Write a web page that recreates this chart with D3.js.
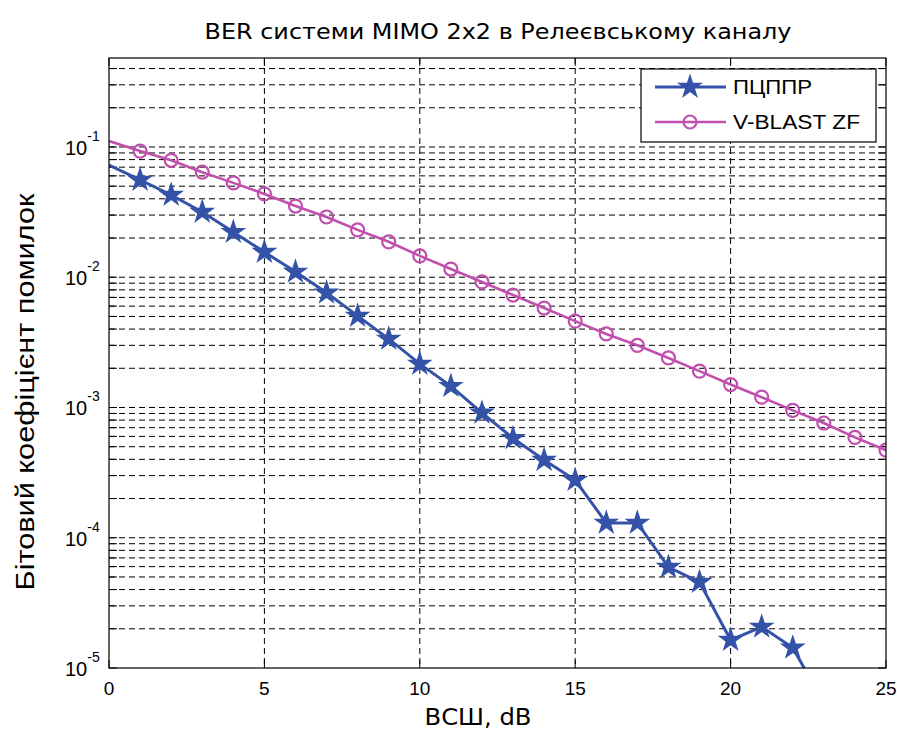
<!DOCTYPE html>
<html>
<head>
<meta charset="utf-8">
<script src="https://cdn.jsdelivr.net/npm/d3@7"></script>
<style>
  body { margin: 0; background: #fff; }
</style>
</head>
<body>
<div class="chart"></div>
<script>
// SNR points, dB
const snr = [0, 1, 2, 3, 4, 5, 6, 7, 8, 9, 10, 11, 12, 13, 14, 15, 16, 17, 18, 19, 20, 21, 22, 23, 24, 25];
// BER
const berPcppr = [0.0727, 0.0558, 0.0428, 0.0317, 0.0222, 0.0156, 0.011, 0.0076, 0.00505, 0.00336,
    0.00216, 0.00146, 0.00091, 0.00058, 0.000395, 0.000277, 0.00013, 0.00013, 0.0000596, 0.0000457,
    0.0000164, 0.0000207, 0.0000143, 0.0000054];
const berVblast = [0.111, 0.093, 0.079, 0.064, 0.053, 0.0436, 0.0352, 0.029, 0.0231, 0.0187,
    0.0146, 0.01156, 0.0092, 0.0073, 0.0058, 0.0046, 0.00367, 0.003, 0.0024, 0.0019,
    0.0015, 0.0012, 0.00095, 0.00076, 0.00059, 0.00047];
const xTicks = [0, 5, 10, 15, 20, 25];
const yDecades = [-5, -4, -3, -2, -1];
const seriesNames = ['ПЦППР', 'V-BLAST ZF'];

const margin = { top: 58, right: 11, bottom: 63, left: 109 },
    width = 897 - margin.left - margin.right,
    height = 731 - margin.top - margin.bottom;

const blue = '#3453a8', pink = '#c04fae';

const root = d3.select('.chart')
    .append('svg')
    .attr('width', 897)
    .attr('height', 731);

root.append('rect').attr('width', 897).attr('height', 731).attr('fill', '#fff');

const svg = root.append('g')
    .attr('transform', `translate(${margin.left},${margin.top})`);

const x = d3.scaleLinear().domain([0, 25]).range([0, width]);
const y = d3.scaleLog().domain([1e-5, 0.482]).range([height, 0]);

// all log ticks inside the range
const yMinor = [];
yDecades.forEach(e => {
    for (let k = 1; k <= 9; k++) {
        const v = k * Math.pow(10, e);
        if (v <= y.domain()[1]) yMinor.push(v);
    }
});

// grid
svg.append('g')
    .selectAll('line')
    .data(yMinor.filter(v => v > 1e-5))
    .join('line')
    .attr('x1', 0).attr('x2', width)
    .attr('y1', d => y(d)).attr('y2', d => y(d))
    .attr('stroke', '#000').attr('stroke-width', 1)
    .attr('stroke-dasharray', '6,4');

svg.append('g')
    .selectAll('line')
    .data(xTicks.filter(d => d > 0 && d < 25))
    .join('line')
    .attr('x1', d => x(d)).attr('x2', d => x(d))
    .attr('y1', 0).attr('y2', height)
    .attr('stroke', '#000').attr('stroke-width', 1)
    .attr('stroke-dasharray', '6,4');

// ticks inside the box
const tl = 8;
svg.append('g').selectAll('line')
    .data(xTicks).join('line')
    .attr('x1', d => x(d)).attr('x2', d => x(d))
    .attr('y1', height).attr('y2', height - tl)
    .attr('stroke', '#000');
svg.append('g').selectAll('line')
    .data(xTicks).join('line')
    .attr('x1', d => x(d)).attr('x2', d => x(d))
    .attr('y1', 0).attr('y2', tl)
    .attr('stroke', '#000');
svg.append('g').selectAll('line')
    .data(yMinor).join('line')
    .attr('x1', 0).attr('x2', tl)
    .attr('y1', d => y(d)).attr('y2', d => y(d))
    .attr('stroke', '#000');
svg.append('g').selectAll('line')
    .data(yMinor).join('line')
    .attr('x1', width).attr('x2', width - tl)
    .attr('y1', d => y(d)).attr('y2', d => y(d))
    .attr('stroke', '#000');

// tick labels
svg.append('g').selectAll('text')
    .data(xTicks).join('text')
    .attr('x', d => x(d))
    .attr('y', height + 27)
    .attr('text-anchor', 'middle')
    .style('font-family', '"Liberation Sans", Arial, sans-serif')
    .style('font-size', '19px')
    .text(d => d);

const yLab = svg.append('g').selectAll('text')
    .data(yDecades).join('text')
    .attr('x', -44)
    .attr('y', d => y(Math.pow(10, d)) + 8)
    .style('font-family', '"Liberation Sans", Arial, sans-serif')
    .style('font-size', '20px');
yLab.append('tspan').text('10');
yLab.append('tspan')
    .attr('dy', -14)
    .style('font-size', '14px')
    .text(d => d);

// clip
svg.append('clipPath').attr('id', 'plotClip')
    .append('rect').attr('width', width).attr('height', height);

const line = d3.line()
    .x(d => x(d[0]))
    .y(d => y(d[1]));

const pcppr = berPcppr.map((v, i) => [snr[i], v]);
const vblast = berVblast.map((v, i) => [snr[i], v]);

const plot = svg.append('g').attr('clip-path', 'url(#plotClip)');

plot.append('path')
    .datum(vblast)
    .attr('d', line)
    .attr('fill', 'none')
    .attr('stroke', pink)
    .attr('stroke-width', 2.6);

plot.selectAll('circle.vb')
    .data(vblast.filter(d => d[0] > 0))
    .join('circle')
    .attr('class', 'vb')
    .attr('cx', d => x(d[0]))
    .attr('cy', d => y(d[1]))
    .attr('r', 6.5)
    .attr('fill', 'none')
    .attr('stroke', pink)
    .attr('stroke-width', 2.2);

plot.append('path')
    .datum(pcppr)
    .attr('d', line)
    .attr('fill', 'none')
    .attr('stroke', blue)
    .attr('stroke-width', 3);

const star = d3.symbol().type(d3.symbolStar).size(140);

plot.selectAll('path.star')
    .data(pcppr.filter(d => d[0] > 0 && d[1] >= 1e-5))
    .join('path')
    .attr('class', 'star')
    .attr('d', star)
    .attr('transform', d => `translate(${x(d[0])},${y(d[1])})`)
    .attr('fill', blue)
    .attr('stroke', blue)
    .attr('stroke-width', 1.5);

// box
svg.append('rect')
    .attr('width', width).attr('height', height)
    .attr('fill', 'none').attr('stroke', '#000').attr('stroke-width', 1.2);

// legend
const legend = svg.append('g')
    .attr('class', 'legend')
    .attr('transform', `translate(${641 - margin.left},${69 - margin.top})`);

legend.append('rect')
    .attr('width', 235).attr('height', 73)
    .attr('fill', '#fff').attr('stroke', '#000').attr('stroke-width', 1.2);

const items = legend.selectAll('g.item')
    .data(seriesNames)
    .join('g')
    .attr('class', 'item')
    .attr('transform', (d, i) => `translate(0,${18 + i * 35})`);

items.append('line')
    .attr('x1', 14).attr('x2', 85)
    .attr('stroke', (d, i) => i ? pink : blue)
    .attr('stroke-width', (d, i) => i ? 2.6 : 3);

items.filter((d, i) => i === 0).append('path')
    .attr('d', star)
    .attr('transform', 'translate(49,0)')
    .attr('fill', blue).attr('stroke', blue).attr('stroke-width', 1.5);

items.filter((d, i) => i === 1).append('circle')
    .attr('cx', 49).attr('r', 6.5)
    .attr('fill', 'none').attr('stroke', pink).attr('stroke-width', 2.2);

items.append('text')
    .attr('x', 92)
    .attr('y', 7)
    .style('font-family', '"Liberation Sans", Arial, sans-serif')
    .style('font-size', '20px')
    .attr('textLength', (d, i) => i ? 127 : 79)
    .attr('lengthAdjust', 'spacingAndGlyphs')
    .text(d => d);

// titles
root.append('text')
    .attr('x', 498).attr('y', 39)
    .attr('text-anchor', 'middle')
    .style('font-family', '"DejaVu Sans", Verdana, sans-serif')
    .style('font-size', '22px')
    .attr('textLength', 587)
    .attr('lengthAdjust', 'spacingAndGlyphs')
    .text('BER системи MIMO 2x2 в Релеєвському каналу');

root.append('text')
    .attr('x', 478).attr('y', 725)
    .attr('text-anchor', 'middle')
    .style('font-family', '"DejaVu Sans", Verdana, sans-serif')
    .style('font-size', '23px')
    .attr('textLength', 107)
    .attr('lengthAdjust', 'spacingAndGlyphs')
    .text('ВСШ, dB');

root.append('text')
    .attr('transform', 'translate(34,392) rotate(-90)')
    .attr('text-anchor', 'middle')
    .style('font-family', '"Liberation Sans", Arial, sans-serif')
    .style('font-size', '25px')
    .attr('textLength', 397)
    .attr('lengthAdjust', 'spacingAndGlyphs')
    .text('Бітовий коефіцієнт помилок');
</script>
</body>
</html>
